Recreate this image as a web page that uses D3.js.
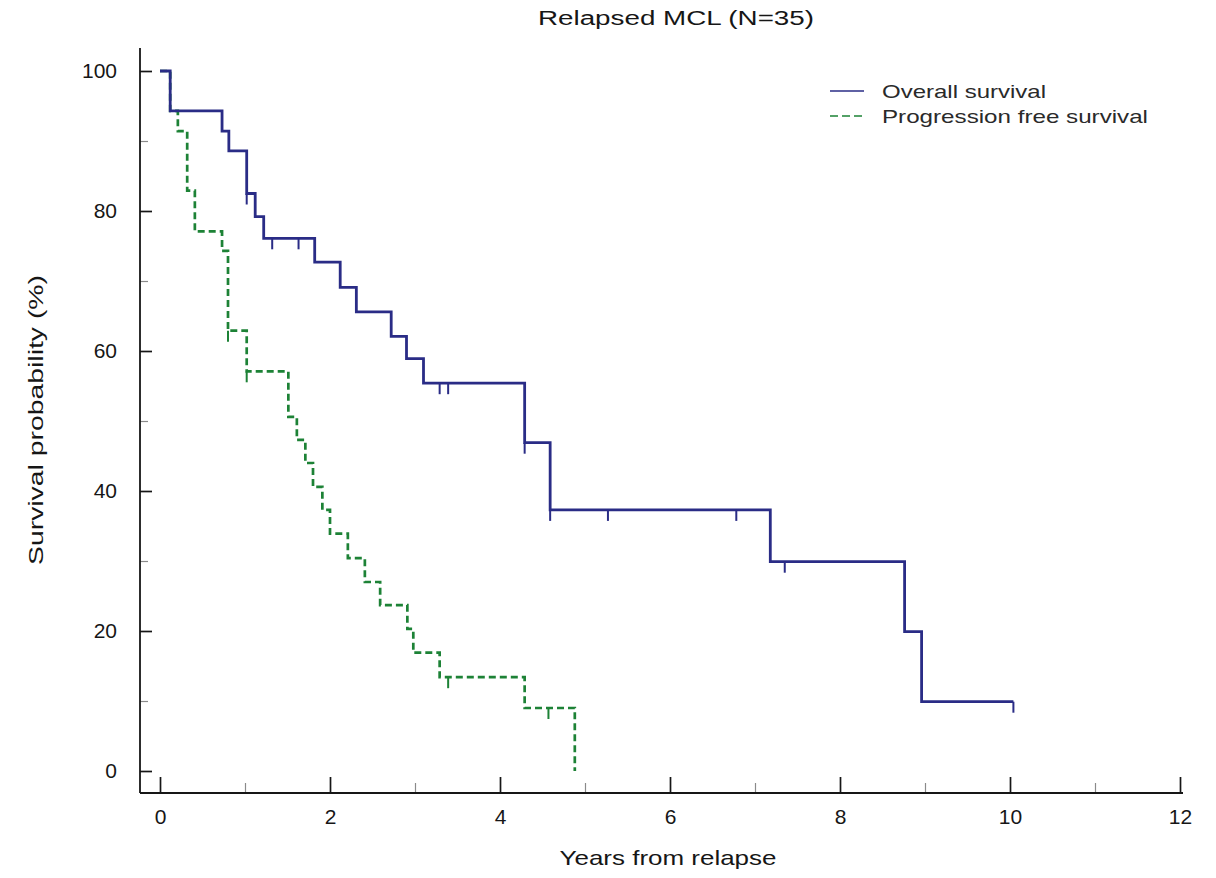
<!DOCTYPE html>
<html>
<head>
<meta charset="utf-8">
<script src="https://cdn.jsdelivr.net/npm/d3@7"></script>
<style>
  html, body { margin: 0; padding: 0; background: #fff; }
  svg { display: block; font-family: "Liberation Sans", Arial, sans-serif; }
</style>
</head>
<body>
<svg id="chart" width="1216" height="878"></svg>
<script>
// Kaplan–Meier estimates, relapsed mantle cell lymphoma (N = 35)
// Overall survival: event times (years) and survival (%) after each step
const osTimes = [0, 0.12, 0.73, 0.81, 1.02, 1.12, 1.22, 1.82, 2.12, 2.31, 2.72, 2.90, 3.10, 4.29, 4.59, 7.18, 8.76, 8.96, 10.04];
const osSurv  = [100, 94.3, 91.4, 88.6, 82.5, 79.2, 76.1, 72.7, 69.1, 65.6, 62.1, 58.9, 55.4, 46.9, 37.3, 29.9, 19.9, 9.9, 9.9];
const osCensored = [1.02, 1.32, 1.63, 3.29, 3.39, 4.29, 4.59, 5.27, 6.78, 7.35, 10.04];

// Progression free survival
const pfsTimes = [0, 0.12, 0.21, 0.32, 0.41, 0.73, 0.80, 1.02, 1.51, 1.61, 1.71, 1.80, 1.91, 2.00, 2.21, 2.41, 2.59, 2.91, 2.98, 3.29, 4.29, 4.88];
const pfsSurv  = [100, 94.3, 91.4, 82.9, 77.1, 74.3, 62.9, 57.1, 50.6, 47.3, 44.0, 40.6, 37.3, 33.9, 30.4, 27.0, 23.7, 20.3, 16.9, 13.4, 9.0, 0];
const pfsCensored = [0.80, 1.02, 3.39, 4.57];

// Axis ticks
const xMajorTicks = [0, 2, 4, 6, 8, 10, 12];
const xMinorTicks = [1, 3, 5, 7, 9, 11];
const yMajorTicks = [0, 20, 40, 60, 80, 100];
const yMinorTicks = [10, 30, 50, 70, 90];

const seriesNames = ["Overall survival", "Progression free survival"];

const osColor = "#2a2c86";
const pfsColor = "#1d8236";
const inkColor = "#161616";

const svg = d3.select("#chart");

const x = d3.scaleLinear().domain([0, 12]).range([160, 1180]);
const y = d3.scaleLinear().domain([0, 100]).range([771, 71]);

const axisX = 140;   // vertical axis line position
const axisY = 793;   // horizontal axis line position

// Title
svg.append("text")
  .attr("x", 676).attr("y", 25)
  .attr("text-anchor", "middle")
  .attr("font-size", 20)
  .attr("textLength", 276).attr("lengthAdjust", "spacingAndGlyphs")
  .attr("fill", inkColor)
  .text("Relapsed MCL (N=35)");

// Y axis
const gy = svg.append("g").attr("transform", `translate(${axisX},0)`);
gy.call(d3.axisLeft(y).tickValues(yMajorTicks).tickSize(-12).tickPadding(23));
gy.select(".domain").remove();
gy.selectAll(".tick line").attr("stroke", inkColor).attr("stroke-width", 1.7);
gy.selectAll(".tick text")
  .attr("font-size", 21).attr("fill", inkColor)
  .attr("font-family", "Liberation Sans, Arial, sans-serif");

const gyMinor = svg.append("g").attr("transform", `translate(${axisX},0)`);
gyMinor.call(d3.axisLeft(y).tickValues(yMinorTicks).tickSize(-8).tickFormat(""));
gyMinor.select(".domain").remove();
gyMinor.selectAll(".tick line").attr("stroke", "#8a8a8a").attr("stroke-width", 1.2);

svg.append("line")
  .attr("x1", axisX).attr("x2", axisX)
  .attr("y1", 48).attr("y2", axisY)
  .attr("stroke", inkColor).attr("stroke-width", 1.8);

// X axis
const gx = svg.append("g").attr("transform", `translate(0,${axisY})`);
gx.call(d3.axisBottom(x).tickValues(xMajorTicks).tickSize(-16).tickPadding(16));
gx.select(".domain").remove();
gx.selectAll(".tick line").attr("stroke", inkColor).attr("stroke-width", 1.7);
gx.selectAll(".tick text")
  .attr("font-size", 21).attr("fill", inkColor)
  .attr("font-family", "Liberation Sans, Arial, sans-serif");

const gxMinor = svg.append("g").attr("transform", `translate(0,${axisY})`);
gxMinor.call(d3.axisBottom(x).tickValues(xMinorTicks).tickSize(-10).tickFormat(""));
gxMinor.select(".domain").remove();
gxMinor.selectAll(".tick line").attr("stroke", "#8a8a8a").attr("stroke-width", 1.2);

svg.append("line")
  .attr("x1", axisX).attr("x2", 1183)
  .attr("y1", axisY).attr("y2", axisY)
  .attr("stroke", inkColor).attr("stroke-width", 1.8);

// Axis titles
svg.append("text")
  .attr("x", 668).attr("y", 865)
  .attr("text-anchor", "middle")
  .attr("font-size", 21)
  .attr("textLength", 217).attr("lengthAdjust", "spacingAndGlyphs")
  .attr("fill", inkColor)
  .text("Years from relapse");

svg.append("text")
  .attr("transform", "translate(43,420) rotate(-90)")
  .attr("text-anchor", "middle")
  .attr("font-size", 21)
  .attr("textLength", 290).attr("lengthAdjust", "spacingAndGlyphs")
  .attr("fill", inkColor)
  .text("Survival probability (%)");

// Survival curves
const step = d3.line()
  .x(d => x(d[0]))
  .y(d => y(d[1]))
  .curve(d3.curveStepAfter);

const osData = osTimes.map((t, i) => [t, osSurv[i]]);
const pfsData = pfsTimes.map((t, i) => [t, pfsSurv[i]]);

// survival value in effect at time t (right-continuous step function)
function survAt(times, surv, t) {
  let v = surv[0];
  for (let i = 0; i < times.length; i++) {
    if (times[i] <= t + 1e-9) v = surv[i];
  }
  return v;
}

svg.append("path")
  .datum(pfsData)
  .attr("d", step)
  .attr("fill", "none")
  .attr("stroke", pfsColor)
  .attr("stroke-width", 2.7)
  .attr("stroke-dasharray", "7,4");

svg.append("path")
  .datum(osData)
  .attr("d", step)
  .attr("fill", "none")
  .attr("stroke", osColor)
  .attr("stroke-width", 2.8);

// Censoring marks, hanging below the curve
svg.append("g").selectAll("line")
  .data(osCensored)
  .join("line")
  .attr("x1", d => x(d)).attr("x2", d => x(d))
  .attr("y1", d => y(survAt(osTimes, osSurv, d)))
  .attr("y2", d => y(survAt(osTimes, osSurv, d)) + 11)
  .attr("stroke", osColor).attr("stroke-width", 2);

svg.append("g").selectAll("line")
  .data(pfsCensored)
  .join("line")
  .attr("x1", d => x(d)).attr("x2", d => x(d))
  .attr("y1", d => y(survAt(pfsTimes, pfsSurv, d)))
  .attr("y2", d => y(survAt(pfsTimes, pfsSurv, d)) + 11)
  .attr("stroke", pfsColor).attr("stroke-width", 2);

// Legend
const legend = svg.append("g");
const legendRows = [
  { name: seriesNames[0], color: osColor, dash: null, y: 91, len: 164 },
  { name: seriesNames[1], color: pfsColor, dash: "8,4", y: 116, len: 266 }
];
legendRows.forEach(r => {
  legend.append("line")
    .attr("x1", 830).attr("x2", 864)
    .attr("y1", r.y).attr("y2", r.y)
    .attr("stroke", r.color).attr("stroke-width", 1.6)
    .attr("stroke-dasharray", r.dash);
  legend.append("text")
    .attr("x", 882).attr("y", r.y + 7)
    .attr("font-size", 19)
    .attr("textLength", r.len).attr("lengthAdjust", "spacingAndGlyphs")
    .attr("fill", "#2a2a2a")
    .text(r.name);
});
</script>
</body>
</html>
